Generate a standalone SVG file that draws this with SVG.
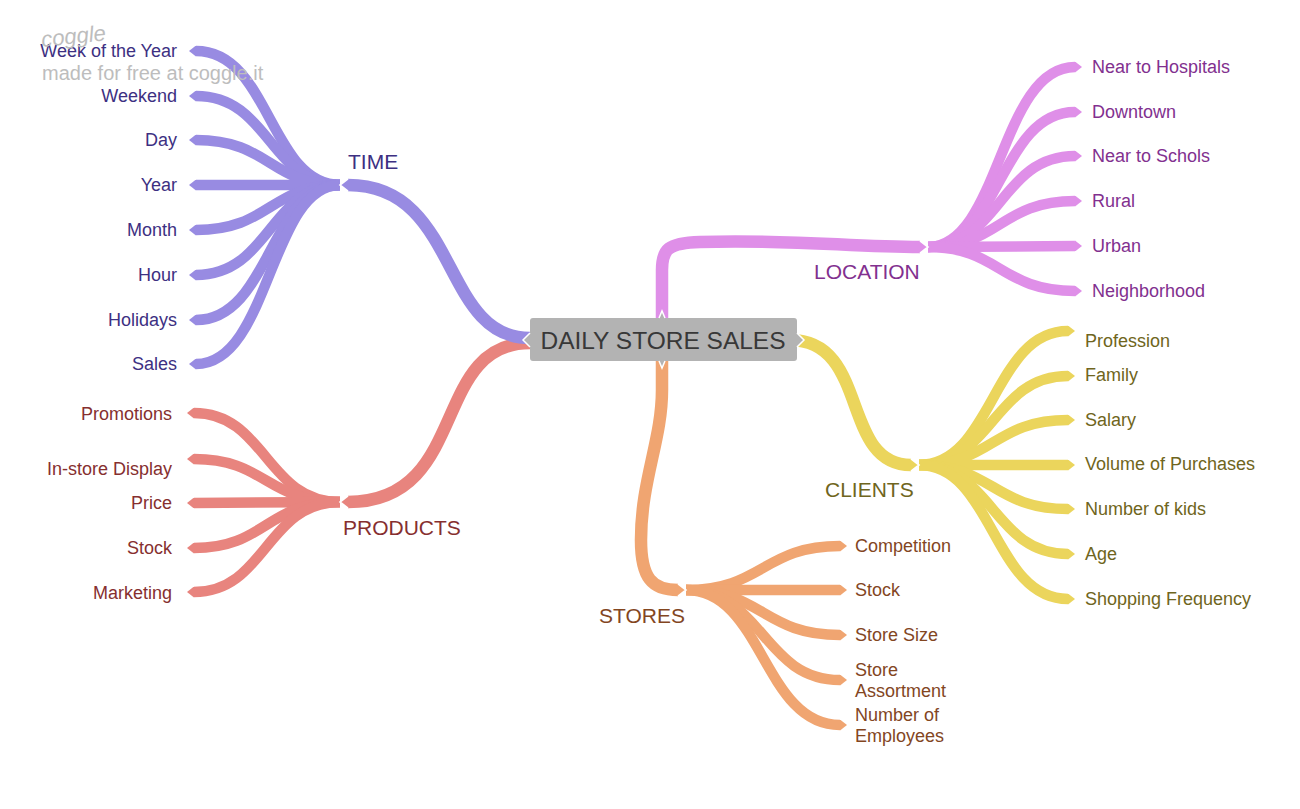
<svg xmlns="http://www.w3.org/2000/svg" width="1300" height="809" viewBox="0 0 1300 809">
<defs>
<style>
.b{fill:none;stroke-linecap:butt}
.lf{stroke-width:10.5}
.mn{stroke-width:12.5}
.t{font-family:"Liberation Sans",Arial,sans-serif;font-size:18px}
.h{font-family:"Liberation Sans",Arial,sans-serif;font-size:21px}
.pu{stroke:#988be2}.puT{fill:#3d3082}
.rd{stroke:#e8847e}.rdT{fill:#862f2f}
.pk{stroke:#df8fe8}.pkT{fill:#82308f}
.yl{stroke:#ebd55c}.ylT{fill:#6f6520}
.or{stroke:#f0a571}.orT{fill:#83461f}
</style>
<marker id="tPu" markerUnits="userSpaceOnUse" viewBox="0 0 8 11" refX="0" refY="5.5" markerWidth="8" markerHeight="11" orient="auto"><path d="M0,0 L7,5.5 L0,11 Z" fill="#988be2"/></marker>
<marker id="tRd" markerUnits="userSpaceOnUse" viewBox="0 0 8 11" refX="0" refY="5.5" markerWidth="8" markerHeight="11" orient="auto"><path d="M0,0 L7,5.5 L0,11 Z" fill="#e8847e"/></marker>
<marker id="tPk" markerUnits="userSpaceOnUse" viewBox="0 0 8 11" refX="0" refY="5.5" markerWidth="8" markerHeight="11" orient="auto"><path d="M0,0 L7,5.5 L0,11 Z" fill="#df8fe8"/></marker>
<marker id="tYl" markerUnits="userSpaceOnUse" viewBox="0 0 8 11" refX="0" refY="5.5" markerWidth="8" markerHeight="11" orient="auto"><path d="M0,0 L7,5.5 L0,11 Z" fill="#ebd55c"/></marker>
<marker id="tOr" markerUnits="userSpaceOnUse" viewBox="0 0 8 11" refX="0" refY="5.5" markerWidth="8" markerHeight="11" orient="auto"><path d="M0,0 L7,5.5 L0,11 Z" fill="#f0a571"/></marker>
<marker id="mPu" markerUnits="userSpaceOnUse" viewBox="-1 -1 11 15" refX="0" refY="6.25" markerWidth="11" markerHeight="15" orient="auto"><path d="M0,0 L8,6.25 L0,12.5" fill="#988be2" stroke="#fff" stroke-width="1.6"/></marker>
<marker id="mRd" markerUnits="userSpaceOnUse" viewBox="-1 -1 11 15" refX="0" refY="6.25" markerWidth="11" markerHeight="15" orient="auto"><path d="M0,0 L8,6.25 L0,12.5" fill="#e8847e" stroke="#fff" stroke-width="1.6"/></marker>
<marker id="mPk" markerUnits="userSpaceOnUse" viewBox="-1 -1 11 15" refX="0" refY="6.25" markerWidth="11" markerHeight="15" orient="auto"><path d="M0,0 L8,6.25 L0,12.5" fill="#df8fe8" stroke="#fff" stroke-width="1.6"/></marker>
<marker id="mYl" markerUnits="userSpaceOnUse" viewBox="-1 -1 11 15" refX="0" refY="6.25" markerWidth="11" markerHeight="15" orient="auto"><path d="M0,0 L8,6.25 L0,12.5" fill="#ebd55c" stroke="#fff" stroke-width="1.6"/></marker>
<marker id="mOr" markerUnits="userSpaceOnUse" viewBox="-1 -1 11 15" refX="0" refY="6.25" markerWidth="11" markerHeight="15" orient="auto"><path d="M0,0 L8,6.25 L0,12.5" fill="#f0a571" stroke="#fff" stroke-width="1.6"/></marker>
</defs>
<rect width="1300" height="809" fill="#fff"/>

<g id="connectors">
<g id="time-links" class="b lf pu" marker-end="url(#tPu)">
<path d="M340,185 C270,185 270,51 196,51"/>
<path d="M340,185 C270,185 270,96 196,96"/>
<path d="M340,185 C270,185 270,140 196,140"/>
<path d="M340,185 L196,185"/>
<path d="M340,185 C270,185 270,230 196,230"/>
<path d="M340,185 C270,185 270,275 196,275"/>
<path d="M340,185 C270,185 270,320 196,320"/>
<path d="M340,185 C270,185 270,364 196,364"/>
</g>
<g id="products-links" class="b lf rd" marker-end="url(#tRd)">
<path d="M340,502 C266,502 266,413 194,413"/>
<path d="M340,502 C266,502 266,459 194,459"/>
<path d="M340,502 L194,503"/>
<path d="M340,502 C266,502 266,548 194,548"/>
<path d="M340,502 C266,502 266,592 194,592"/>
</g>
<g id="location-links" class="b lf pk" marker-end="url(#tPk)">
<path d="M928,247 C1000,247 1000,67 1075,67"/>
<path d="M928,247 C1000,247 1000,112 1075,112"/>
<path d="M928,247 C1000,247 1000,156 1075,156"/>
<path d="M928,247 C1000,247 1000,201 1075,201"/>
<path d="M928,247 L1075,246"/>
<path d="M928,247 C1000,247 1000,291 1075,291"/>
</g>
<g id="clients-links" class="b lf yl" marker-end="url(#tYl)">
<path d="M919,465 C993,465 993,331 1068,331"/>
<path d="M919,465 C993,465 993,376 1068,376"/>
<path d="M919,465 C993,465 993,420 1068,420"/>
<path d="M919,465 L1068,465"/>
<path d="M919,465 C993,465 993,509 1068,509"/>
<path d="M919,465 C993,465 993,554 1068,554"/>
<path d="M919,465 C993,465 993,599 1068,599"/>
</g>
<g id="stores-links" class="b lf or" marker-end="url(#tOr)">
<path d="M686,590 C763,590 763,546 840,546"/>
<path d="M686,590 L840,590"/>
<path d="M686,590 C763,590 763,635 840,635"/>
<path d="M686,590 C763,590 763,680 840,680"/>
<path d="M686,590 C763,590 763,725 840,725"/>
</g>
<g id="main-links" class="b mn">
<path class="rd" marker-end="url(#mRd)" d="M530,343 C430,343 470,502 348,502"/>
<path class="pu" marker-end="url(#mPu)" d="M530,338 C440,338 460,185 348,185"/>
<path class="pk" marker-end="url(#mPk)" d="M662,330 L662,270 C662,249 668,243 700,242 C790,239 850,247 920,247"/>
<path class="yl" marker-end="url(#mYl)" d="M790,340 C870,340 840,465 911,465"/>
<path class="or" marker-end="url(#mOr)" d="M662,350 L662,390 C662,440 641,480 641,540 C641,578 652,590 678,590"/>
</g>
</g>

<g id="center">
<path d="M533,318 H659 L662,311 L665,318 H794 Q797,318 797,321 V333 L804,340 L797,347 V358 Q797,361 794,361 H665 L662,368 L659,361 H533 Q530,361 530,358 V347 L523,340 L530,333 V321 Q530,318 533,318 Z" fill="#b3b3b3"/>
<path d="M530,333 L523,340 L530,347 M797,333 L804,340 L797,347 M659,318 L662,311 L665,318 M659,361 L662,368 L665,361" fill="none" stroke="#fff" stroke-width="1.5"/>
<text x="663" y="348.5" text-anchor="middle" font-family="Liberation Sans, Arial, sans-serif" font-size="24.5" fill="#383838">DAILY STORE SALES</text>
</g>

<g id="time"><text class="h puT" x="348" y="169">TIME</text></g>
<g id="time-leaves" class="t puT" text-anchor="end">
<text x="177" y="57">Week of the Year</text>
<text x="177" y="102">Weekend</text>
<text x="177" y="146">Day</text>
<text x="177" y="191">Year</text>
<text x="177" y="236">Month</text>
<text x="177" y="281">Hour</text>
<text x="177" y="326">Holidays</text>
<text x="177" y="370">Sales</text>
</g>

<g id="products"><text class="h rdT" x="343" y="535">PRODUCTS</text></g>
<g id="products-leaves" class="t rdT" text-anchor="end">
<text x="172" y="420">Promotions</text>
<text x="172" y="475">In-store Display</text>
<text x="172" y="509">Price</text>
<text x="172" y="554">Stock</text>
<text x="172" y="599">Marketing</text>
</g>

<g id="location"><text class="h pkT" x="814" y="279">LOCATION</text></g>
<g id="location-leaves" class="t pkT">
<text x="1092" y="73">Near to Hospitals</text>
<text x="1092" y="118">Downtown</text>
<text x="1092" y="162">Near to Schols</text>
<text x="1092" y="207">Rural</text>
<text x="1092" y="252">Urban</text>
<text x="1092" y="297">Neighborhood</text>
</g>

<g id="clients"><text class="h ylT" x="825" y="497">CLIENTS</text></g>
<g id="clients-leaves" class="t ylT">
<text x="1085" y="347">Profession</text>
<text x="1085" y="381">Family</text>
<text x="1085" y="426">Salary</text>
<text x="1085" y="470">Volume of Purchases</text>
<text x="1085" y="515">Number of kids</text>
<text x="1085" y="560">Age</text>
<text x="1085" y="605">Shopping Frequency</text>
</g>

<g id="stores"><text class="h orT" x="599" y="623">STORES</text></g>
<g id="stores-leaves" class="t orT">
<text x="855" y="552">Competition</text>
<text x="855" y="596">Stock</text>
<text x="855" y="641">Store Size</text>
<text x="855" y="676">Store</text>
<text x="855" y="697">Assortment</text>
<text x="855" y="721">Number of</text>
<text x="855" y="742">Employees</text>
</g>

<g id="watermark" font-family="Liberation Sans, Arial, sans-serif" fill="#bdbdbd">
<text x="42" y="47" font-size="22" font-style="italic" transform="rotate(-6 42 47)">coggle</text>
<text x="42" y="80" font-size="20">made for free at coggle.it</text>
</g>
</svg>
